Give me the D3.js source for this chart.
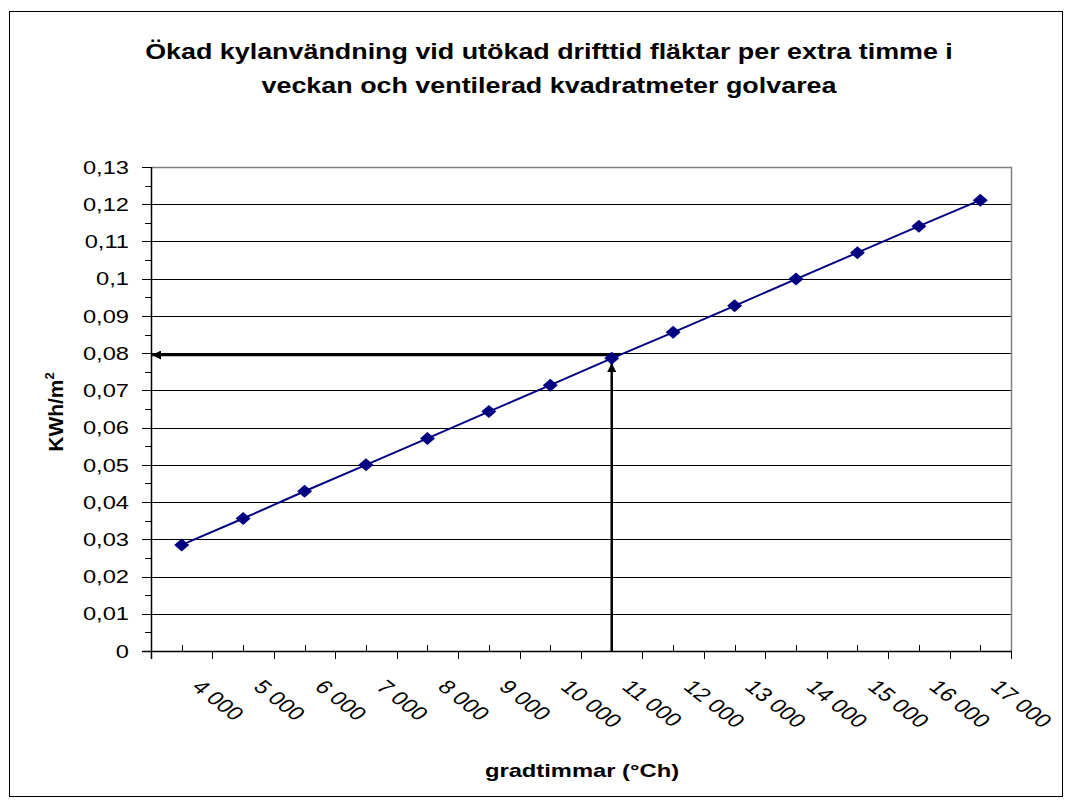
<!DOCTYPE html>
<html>
<head>
<meta charset="utf-8">
<script src="https://cdn.jsdelivr.net/npm/d3@7"></script>
<style>
  body { margin: 0; background: #fff; }
  text { font-family: Arial, "Liberation Sans", sans-serif; fill: #000; }
</style>
</head>
<body>
<div id="vis1"></div>
<script>
const FRAME_WIDTH = 1073;
const FRAME_HEIGHT = 808;
const PLOT = {left: 151, right: 1011, top: 167, bottom: 651};
const STRETCH = 1.28; // the original picture is stretched sideways

// data
const gradtimmar = [4000, 5000, 6000, 7000, 8000, 9000, 10000, 11000,
                    12000, 13000, 14000, 15000, 16000, 17000];
const kwhPerM2 = [0.0285, 0.0356, 0.0429, 0.0500, 0.0571, 0.0643, 0.0714, 0.0786,
                  0.0856, 0.0927, 0.0999, 0.1070, 0.1141, 0.1211];
const yTicks = [0, 0.01, 0.02, 0.03, 0.04, 0.05, 0.06, 0.07, 0.08, 0.09, 0.1, 0.11, 0.12, 0.13];
const titleLines = ["Ökad kylanvändning vid utökad drifttid fläktar per extra timme i",
                    "veckan och ventilerad kvadratmeter golvarea"];
// reading example drawn with arrows
const readCategory = 11000;
const readValue = 0.0795;

const SV = d3.formatLocale({decimal: ",", thousands: " ", grouping: [3], currency: ["", ""]});
const fmtX = SV.format(",d");
const fmtY = SV.format(".2~f");

const svg = d3.select("#vis1")
  .append("svg")
    .attr("width", FRAME_WIDTH)
    .attr("height", FRAME_HEIGHT);

svg.append("defs").append("marker")
    .attr("id", "arrow")
    .attr("viewBox", "0 0 10 10")
    .attr("refX", 10).attr("refY", 5)
    .attr("markerWidth", 10).attr("markerHeight", 9)
    .attr("markerUnits", "userSpaceOnUse")
    .attr("orient", "auto")
  .append("path")
    .attr("d", "M0,0L10,5L0,10Z")
    .attr("fill", "#000");

// outer chart border
svg.append("rect")
    .attr("x", 9.5).attr("y", 11.5)
    .attr("width", 1053).attr("height", 785)
    .attr("fill", "none").attr("stroke", "#000");

const X_SCALE = d3.scaleBand()
    .domain(gradtimmar)
    .range([PLOT.left, PLOT.right])
    .padding(0);

const Y_SCALE = d3.scaleLinear()
    .domain([0, 0.13])
    .range([PLOT.bottom, PLOT.top]);

// gridlines
svg.append("g")
  .selectAll("line")
  .data(yTicks.filter(d => d > 0 && d < 0.13))
  .enter().append("line")
    .attr("x1", PLOT.left).attr("x2", PLOT.right)
    .attr("y1", d => Math.round(Y_SCALE(d)) + 0.5)
    .attr("y2", d => Math.round(Y_SCALE(d)) + 0.5)
    .attr("stroke", "#000");

// plot area border (top / right)
svg.append("path")
    .attr("d", `M${PLOT.left},${PLOT.top + 0.5}H${PLOT.right + 0.5}V${PLOT.bottom}`)
    .attr("fill", "none").attr("stroke", "#808080").attr("stroke-width", 1.5);

// y axis
const yAxis = svg.append("g");
yAxis.append("line")
    .attr("x1", PLOT.left + 0.5).attr("x2", PLOT.left + 0.5)
    .attr("y1", PLOT.top).attr("y2", PLOT.bottom + 8)
    .attr("stroke", "#000").attr("stroke-width", 1.5);
const minor = d3.range(0.005, 0.13, 0.01);
yAxis.selectAll(".minor")
  .data(minor)
  .enter().append("line")
    .attr("x1", PLOT.left - 6).attr("x2", PLOT.left)
    .attr("y1", d => Math.round(Y_SCALE(d)) + 0.5)
    .attr("y2", d => Math.round(Y_SCALE(d)) + 0.5)
    .attr("stroke", "#000");
yAxis.selectAll(".major")
  .data(yTicks)
  .enter().append("line")
    .attr("x1", PLOT.left - 9).attr("x2", PLOT.left)
    .attr("y1", d => Math.round(Y_SCALE(d)) + 0.5)
    .attr("y2", d => Math.round(Y_SCALE(d)) + 0.5)
    .attr("stroke", "#000");
yAxis.selectAll("text")
  .data(yTicks)
  .enter().append("text")
    .attr("transform", d => `translate(129,${Y_SCALE(d)}) scale(${STRETCH},1)`)
    .attr("dy", "0.36em")
    .attr("text-anchor", "end")
    .attr("font-size", 18.5)
    .text(d => fmtY(d));

// x axis
const xAxis = svg.append("g");
xAxis.append("line")
    .attr("x1", PLOT.left - 9).attr("x2", PLOT.right + 1)
    .attr("y1", PLOT.bottom + 0.5).attr("y2", PLOT.bottom + 0.5)
    .attr("stroke", "#000").attr("stroke-width", 1.5);
const bounds = gradtimmar.map(d => X_SCALE(d)).concat([PLOT.right]);
xAxis.selectAll(".bound")
  .data(bounds)
  .enter().append("line")
    .attr("x1", d => Math.round(d) + 0.5).attr("x2", d => Math.round(d) + 0.5)
    .attr("y1", PLOT.bottom).attr("y2", PLOT.bottom + 8)
    .attr("stroke", "#000");
xAxis.selectAll(".center")
  .data(gradtimmar)
  .enter().append("line")
    .attr("x1", d => Math.round(X_SCALE(d) + X_SCALE.bandwidth() / 2) + 0.5)
    .attr("x2", d => Math.round(X_SCALE(d) + X_SCALE.bandwidth() / 2) + 0.5)
    .attr("y1", PLOT.bottom - 6).attr("y2", PLOT.bottom)
    .attr("stroke", "#000");
xAxis.selectAll("text")
  .data(gradtimmar)
  .enter().append("text")
    .attr("transform", d => `translate(${X_SCALE(d) + X_SCALE.bandwidth() / 2 + 9},688) scale(${STRETCH},1) rotate(45)`)
    .attr("font-size", 19)
    .text(d => fmtX(d));

// arrows for the reading example
const readX = X_SCALE(readCategory) + X_SCALE.bandwidth() / 2;
svg.append("line")
    .attr("x1", readX + 8).attr("x2", PLOT.left + 1)
    .attr("y1", Y_SCALE(readValue)).attr("y2", Y_SCALE(readValue))
    .attr("stroke", "#000").attr("stroke-width", 2.5)
    .attr("marker-end", "url(#arrow)");
svg.append("line")
    .attr("x1", readX).attr("x2", readX)
    .attr("y1", PLOT.bottom).attr("y2", Y_SCALE(readValue) + 8)
    .attr("stroke", "#000").attr("stroke-width", 2.5)
    .attr("marker-end", "url(#arrow)");

// series line and markers
const line = d3.line()
    .x((d, i) => X_SCALE(gradtimmar[i]) + X_SCALE.bandwidth() / 2)
    .y(d => Y_SCALE(d));
svg.append("path")
    .datum(kwhPerM2)
    .attr("d", line)
    .attr("fill", "none")
    .attr("stroke", "#000080")
    .attr("stroke-width", 2);
svg.selectAll(".point")
  .data(kwhPerM2)
  .enter().append("path")
    .attr("class", "point")
    .attr("transform", (d, i) => `translate(${X_SCALE(gradtimmar[i]) + X_SCALE.bandwidth() / 2},${Y_SCALE(d)})`)
    .attr("d", "M0,-6.5L7.5,0L0,6.5L-7.5,0Z")
    .attr("fill", "#000080");

// title
svg.append("g")
  .selectAll("text")
  .data(titleLines)
  .enter().append("text")
    .attr("transform", (d, i) => `translate(549,${59 + i * 34}) scale(1.25,1)`)
    .attr("text-anchor", "middle")
    .attr("font-size", 21.5)
    .attr("font-weight", "bold")
    .text(d => d);

// axis titles
svg.append("text")
    .attr("transform", `translate(582,777) scale(1.25,1)`)
    .attr("text-anchor", "middle")
    .attr("font-size", 19)
    .attr("font-weight", "bold")
    .text("gradtimmar (°Ch)");

const yTitle = svg.append("text")
    .attr("transform", "translate(63,412) rotate(-90)")
    .attr("text-anchor", "middle")
    .attr("font-size", 21)
    .attr("font-weight", "bold");
yTitle.append("tspan").text("KWh/m");
yTitle.append("tspan")
    .attr("font-size", 13)
    .attr("dy", "-0.7em")
    .text("2");
</script>
</body>
</html>
